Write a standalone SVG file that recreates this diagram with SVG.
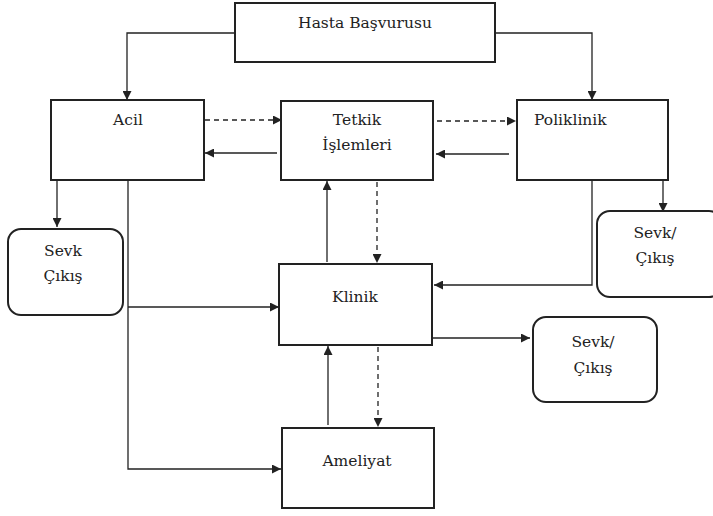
<svg xmlns="http://www.w3.org/2000/svg" width="713" height="516" viewBox="0 0 713 516">
<style>
.box{fill:#fff;stroke:#222;stroke-width:2}
.t{font-family:'DejaVu Serif',serif;font-size:15.5px;fill:#222;text-anchor:middle}
.c{fill:none;stroke:#222;stroke-width:1.3}
.d{stroke-dasharray:5,4}
</style>
<defs>
<marker id="ah" viewBox="0 0 10 10" refX="10" refY="5" markerWidth="9" markerHeight="9" markerUnits="userSpaceOnUse" orient="auto"><path d="M0,0 L10,5 L0,10 z" fill="#222"/></marker>
</defs>
<rect width="713" height="516" fill="#fff"/>
<g id="connectors">
<path class="c" d="M235,33 H127 V100" marker-end="url(#ah)"/>
<path class="c" d="M495,33 H592 V100" marker-end="url(#ah)"/>
<path class="c d" d="M205,120 H282" marker-end="url(#ah)"/>
<path class="c" d="M277,153 H205" marker-end="url(#ah)"/>
<path class="c d" d="M437,121 H516" marker-end="url(#ah)"/>
<path class="c" d="M509,154 H436" marker-end="url(#ah)"/>
<path class="c" d="M57,181 V227" marker-end="url(#ah)"/>
<path class="c" d="M128,181 V469 H281" marker-end="url(#ah)"/>
<path class="c" d="M128,307 H279" marker-end="url(#ah)"/>
<path class="c" d="M327,262 V181" marker-end="url(#ah)"/>
<path class="c d" d="M377,182 V263" marker-end="url(#ah)"/>
<path class="c" d="M592,181 V285 H434" marker-end="url(#ah)"/>
<path class="c" d="M663,181 V212" marker-end="url(#ah)"/>
<path class="c" d="M432,338 H530" marker-end="url(#ah)"/>
<path class="c d" d="M378,347 V427" marker-end="url(#ah)"/>
<path class="c" d="M328,425 V346" marker-end="url(#ah)"/>
</g>
<g id="hasta"><rect class="box" x="235" y="3" width="260" height="59"/><text class="t" x="365" y="28">Hasta Başvurusu</text></g>
<g id="acil"><rect class="box" x="51" y="100" width="153" height="80"/><text class="t" x="128" y="125">Acil</text></g>
<g id="tetkik"><rect class="box" x="281" y="101" width="152" height="79"/><text class="t" x="357" y="125">Tetkik</text><text class="t" x="357" y="150">İşlemleri</text></g>
<g id="poliklinik"><rect class="box" x="517" y="100" width="151" height="80"/><text class="t" x="534" y="125" style="text-anchor:start">Poliklinik</text></g>
<g id="sevk1"><rect class="box" x="8" y="229" width="115" height="86" rx="13"/><text class="t" x="63" y="256">Sevk</text><text class="t" x="63" y="281">Çıkış</text></g>
<g id="sevk2"><rect class="box" x="597" y="211" width="125" height="86" rx="13"/><text class="t" x="655" y="238">Sevk/</text><text class="t" x="655" y="263">Çıkış</text></g>
<g id="klinik"><rect class="box" x="279" y="264" width="153" height="81"/><text class="t" x="355" y="302">Klinik</text></g>
<g id="sevk3"><rect class="box" x="533" y="317" width="124" height="85" rx="13"/><text class="t" x="593" y="347">Sevk/</text><text class="t" x="593" y="373">Çıkış</text></g>
<g id="ameliyat"><rect class="box" x="282" y="428" width="152" height="80"/><text class="t" x="357" y="466">Ameliyat</text></g>
</svg>
